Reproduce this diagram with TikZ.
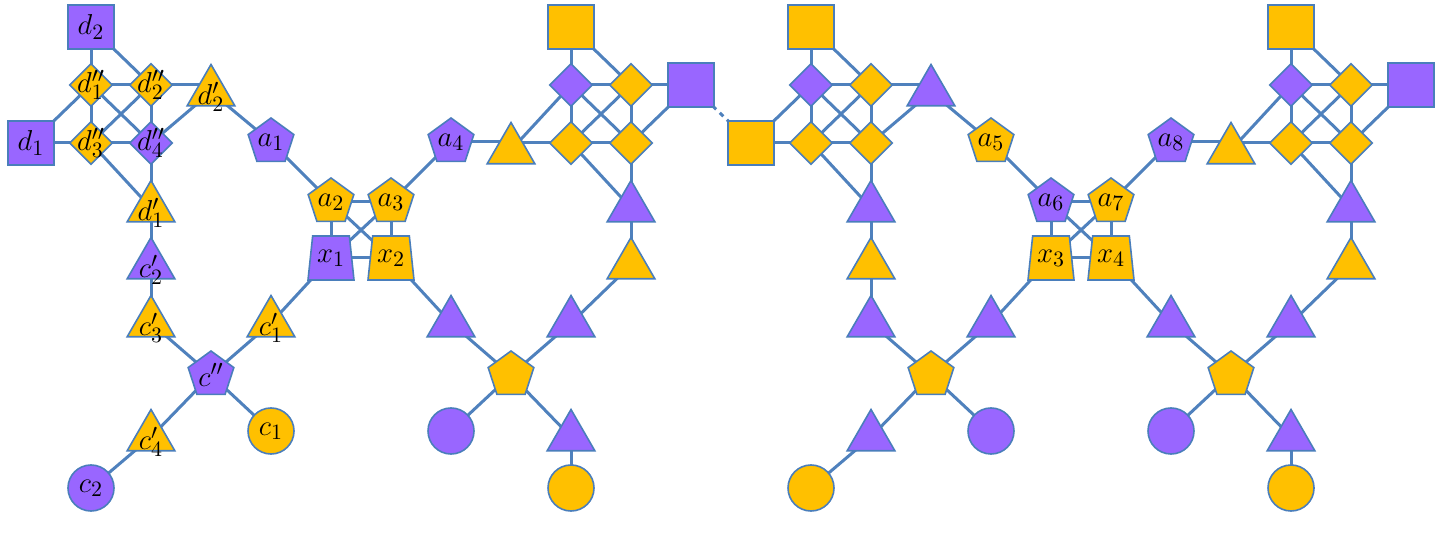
\documentclass[tikz,border=0pt]{standalone}
\usetikzlibrary{shapes.geometric,backgrounds}
\definecolor{pur}{HTML}{9966FF}
\definecolor{yel}{HTML}{FFC000}
\definecolor{edg}{HTML}{4F81BD}
\definecolor{bor}{HTML}{4A7EBB}
\begin{document}
\begin{tikzpicture}[x=0.5pt,y=-0.5pt,
  base/.style={draw=bor,line width=0.8pt,inner sep=0pt,font=\fontsize{15pt}{15pt}\selectfont},
  P/.style={base,fill=pur},Y/.style={base,fill=yel},
  lab/.style={inner sep=0pt,font=\fontsize{15pt}{15pt}\selectfont},
  sq/.style={rectangle,minimum width=23pt,minimum height=22pt},
  dia/.style={diamond,minimum width=21.5pt,minimum height=21.5pt},
  tri/.style={regular polygon,regular polygon sides=3,minimum size=27.5pt},
  pent/.style={regular polygon,regular polygon sides=5,minimum size=24pt},
  trap/.style={trapezium,trapezium left angle=78,trapezium right angle=78,minimum width=23pt,minimum height=22pt,trapezium stretches=true},
  circ/.style={circle,minimum size=23pt},
  edge/.style={draw=edg,line width=1.5pt}]
\useasboundingbox (0,0) rectangle (1444,544);
% ---------- module A, left half
\node[P,sq]  (Ad2)  at (91,27)  {$d_2$};
\node[P,sq]  (Ad1)  at (31,143) {$d_1$};
\node[Y,dia] (Add1) at (91,85)  {};
\node[Y,dia] (Add2) at (151,85) {};
\node[Y,dia] (Add3) at (91,143) {};
\node[P,dia] (Add4) at (151,143){};
\node[lab] at (91,85)  {$d_1''$};
\node[lab] at (151,85) {$d_2''$};
\node[lab] at (91,143) {$d_3''$};
\node[lab] at (151,143){$d_4''$};
\node[Y,tri] (Adp2) at (211,92) {};
\node[lab] at (211,97) {$d_2'$};
\node[P,pent](Aa1)  at (271,142){$a_1$};
\node[Y,tri] (Adp1) at (151,208){};
\node[lab] at (151,213) {$d_1'$};
\node[P,tri] (Acp2) at (151,265){};
\node[lab] at (151,270) {$c_2'$};
\node[Y,tri] (Acp3) at (151,323){};
\node[lab] at (151,328) {$c_3'$};
\node[P,pent](Acpp) at (211,375){$c''$};
\node[Y,tri] (Acp1) at (271,323){};
\node[lab] at (271,328) {$c_1'$};
\node[Y,circ](Ac1)  at (271,431){$c_1$};
\node[Y,tri] (Acp4) at (151,437){};
\node[lab] at (151,442) {$c_4'$};
\node[P,circ](Ac2)  at (91,488) {$c_2$};
\node[Y,pent](Aa2)  at (331,202){$a_2$};
\node[Y,pent](Aa3)  at (391,202){$a_3$};
\node[P,trap](Ax1)  at (331,258){$x_1$};
\node[Y,trap](Ax2)  at (391,258){$x_2$};
% ---------- module A, right half
\node[P,pent](Aa4)  at (451,142){$a_4$};
\node[Y,tri] (At)   at (511,150){};
\node[P,dia] (Ae1)  at (571,85) {};
\node[Y,dia] (Ae2)  at (631,85) {};
\node[Y,dia] (Ae3)  at (571,143){};
\node[Y,dia] (Ae4)  at (631,143){};
\node[Y,sq]  (As)   at (571,27) {};
\node[P,sq]  (Aq)   at (691,85) {};
\node[P,tri] (At1)  at (631,208){};
\node[Y,tri] (At2)  at (631,265){};
\node[P,tri] (At3)  at (451,323){};
\node[P,tri] (At4)  at (571,323){};
\node[Y,pent](Ap)   at (511,375){};
\node[P,circ](Ak1)  at (451,431){};
\node[P,tri] (At5)  at (571,437){};
\node[Y,circ](Ak2)  at (571,488){};
% ---------- module B, left half
\node[Y,sq]  (Bd2)  at (811,27)  {};
\node[Y,sq]  (Bd1)  at (751,143) {};
\node[P,dia] (Bdd1) at (811,85)  {};
\node[Y,dia] (Bdd2) at (871,85)  {};
\node[Y,dia] (Bdd3) at (811,143) {};
\node[Y,dia] (Bdd4) at (871,143) {};
\node[P,tri] (Bdp2) at (931,92)  {};
\node[Y,pent](Ba1)  at (991,142) {$a_5$};
\node[P,tri] (Bdp1) at (871,208) {};
\node[Y,tri] (Bcp2) at (871,265) {};
\node[P,tri] (Bcp3) at (871,323) {};
\node[Y,pent](Bcpp) at (931,375) {};
\node[P,tri] (Bcp1) at (991,323) {};
\node[P,circ](Bc1)  at (991,431) {};
\node[P,tri] (Bcp4) at (871,437) {};
\node[Y,circ](Bc2)  at (811,488) {};
\node[P,pent](Ba2)  at (1051,202){$a_6$};
\node[Y,pent](Ba3)  at (1111,202){$a_7$};
\node[Y,trap](Bx1)  at (1051,258){$x_3$};
\node[Y,trap](Bx2)  at (1111,258){$x_4$};
% ---------- module B, right half
\node[P,pent](Ba4)  at (1171,142){$a_8$};
\node[Y,tri] (Bt)   at (1231,150){};
\node[P,dia] (Be1)  at (1291,85) {};
\node[Y,dia] (Be2)  at (1351,85) {};
\node[Y,dia] (Be3)  at (1291,143){};
\node[Y,dia] (Be4)  at (1351,143){};
\node[Y,sq]  (Bs)   at (1291,27) {};
\node[P,sq]  (Bq)   at (1411,85) {};
\node[P,tri] (Bt1)  at (1351,208){};
\node[Y,tri] (Bt2)  at (1351,265){};
\node[P,tri] (Bt3)  at (1171,323){};
\node[P,tri] (Bt4)  at (1291,323){};
\node[Y,pent](Bp)   at (1231,375){};
\node[P,circ](Bk1)  at (1171,431){};
\node[P,tri] (Bt5)  at (1291,437){};
\node[Y,circ](Bk2)  at (1291,488){};
\begin{scope}[on background layer]
\foreach \m in {A,B}{
  \foreach \u/\v in {d2/dd1,d2/dd2,d1/dd3,d1/dd1,dd1/dd2,dd1/dd3,dd1/dd4,dd2/dd3,dd2/dd4,dd3/dd4,
    dd4/dp2,dd3/dp1,dd4/dp1,dp2/a1,dp1/cp2,cp2/cp3,cp3/cpp,cpp/cp1,cpp/c1,cpp/cp4,cp4/c2,
    cp1/x1,a1/a2,a2/a3,a2/x1,a3/x2,x1/x2,a2/x2,a3/x1,a3/a4,x2/t3,
    t/e1,s/e1,s/e2,e1/e2,e2/q,e1/e3,e2/e4,e1/e4,e2/e3,e3/e4,e4/q,e3/t1,e4/t1,
    t1/t2,t2/t4,t4/p,t3/p,p/k1,p/t5,t5/k2}
    \draw[edge] (\m\u.center) -- (\m\v.center);
  \foreach \u/\v in {dd2/dp2,a4/t,e3/t}
    \draw[edge] (\m\u.center) -- (\m\u.center -| \m\v.center);
}
\draw[edge,dash pattern=on 2.5pt off 2.5pt] (Aq.center) -- (Bd1.center);
\end{scope}
\end{tikzpicture}
\end{document}
